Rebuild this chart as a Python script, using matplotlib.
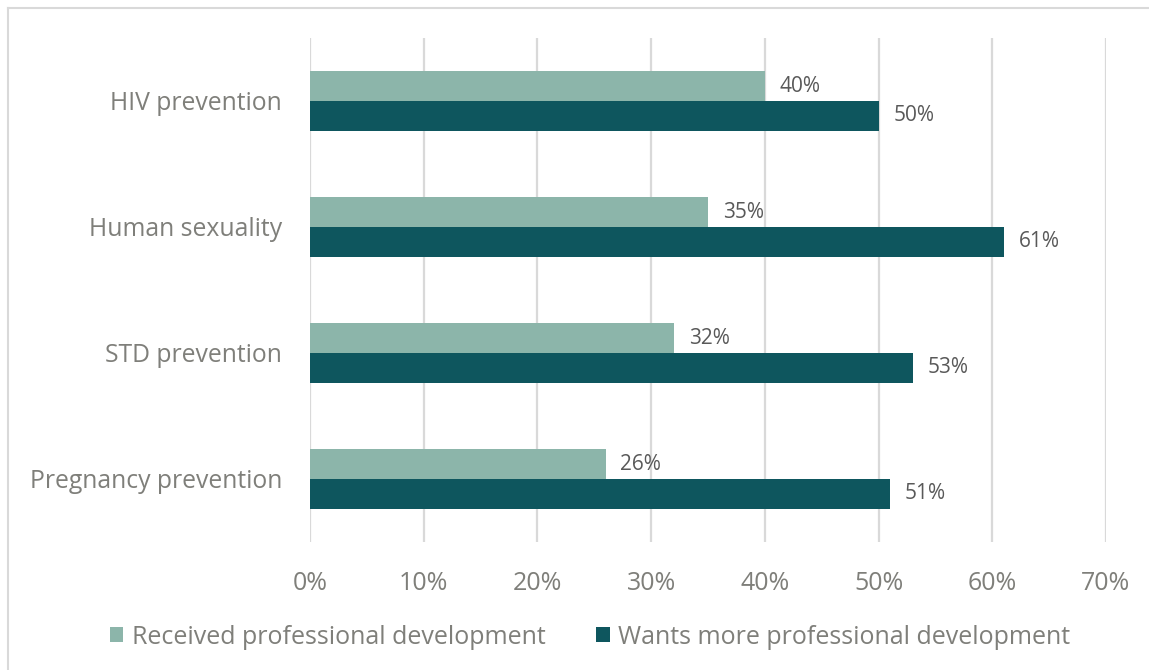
import matplotlib
matplotlib.use("Agg")
import matplotlib.pyplot as plt
from matplotlib.lines import Line2D
from matplotlib.patches import Patch
import numpy as np

plt.rcParams['font.family'] = ['Open Sans', 'DejaVu Sans']

topics = ["HIV prevention", "Human sexuality", "STD prevention", "Pregnancy prevention"]
received = [40, 35, 32, 26]
wants_more = [50, 61, 53, 51]
series_names = ["Received professional development", "Wants more professional development"]

light = "#8cb5aa"
dark = "#0e565e"
tick_grey = "#7f7f7a"
label_grey = "#595959"

fig = plt.figure(figsize=(11.49, 6.70), dpi=100)
ax = fig.add_axes([310 / 1149, 1 - 542 / 670, (1106 - 310) / 1149, 504 / 670])

y = np.arange(len(topics))
h = 0.238
ax.barh(y - h / 2, received, height=h, color=light, zorder=3)
ax.barh(y + h / 2, wants_more, height=h, color=dark, zorder=3)

for yi, r, w in zip(y, received, wants_more):
    ax.text(r + 1.3, yi - h / 2, "%d%%" % r, va="center", ha="left",
            fontsize=15, color=label_grey)
    ax.text(w + 1.3, yi + h / 2, "%d%%" % w, va="center", ha="left",
            fontsize=15, color=label_grey)

ax.set_xlim(0, 70)
ax.set_ylim(3.5, -0.5)
ax.set_xticks(range(0, 71, 10))
ax.set_xticklabels(["%d%%" % t for t in range(0, 71, 10)])
ax.set_yticks(y)
ax.set_yticklabels(topics)
ax.tick_params(axis="x", length=0, pad=21, labelsize=18, labelcolor=tick_grey)
ax.tick_params(axis="y", length=0, pad=20, labelsize=17.8, labelcolor=tick_grey)
ax.grid(axis="x", color="#d9d9d9", linewidth=1.6, zorder=0)
for s in ax.spines.values():
    s.set_visible(False)

handles = [Patch(facecolor=light), Patch(facecolor=dark)]
fig.legend(handles, series_names, loc="center", bbox_to_anchor=(590 / 1149, 1 - 637 / 670),
           ncol=2, frameon=False, fontsize=18, labelcolor=tick_grey,
           handlelength=0.55, handleheight=0.55, handletextpad=0.35, columnspacing=2.0)

# thin frame on the top and left edges
fig.add_artist(Line2D([8 / 1149, 1], [1 - 8 / 670, 1 - 8 / 670], color="#d9d9d9", lw=1.5))
fig.add_artist(Line2D([8 / 1149, 8 / 1149], [0, 1 - 8 / 670], color="#d9d9d9", lw=1.5))

fig.savefig("out.png", dpi=100)
